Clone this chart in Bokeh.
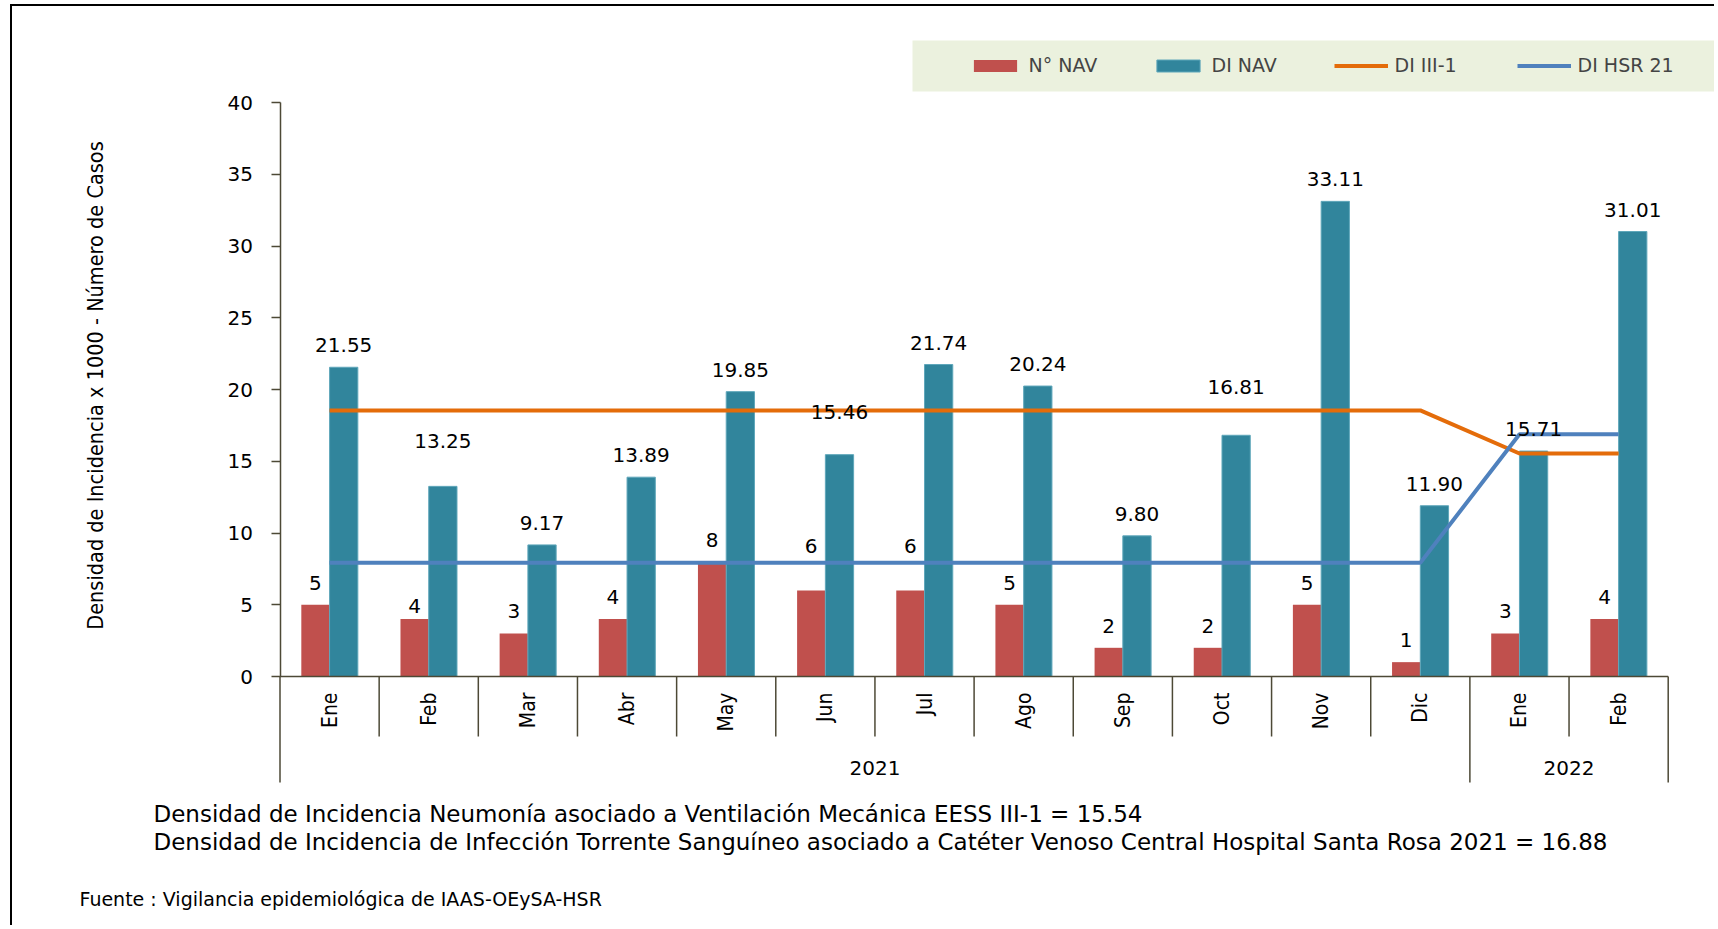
import math
from bokeh.plotting import figure
from bokeh.models import (Range1d, FixedTicker, Label, Legend, LegendItem,
                          ColumnDataSource)
from bokeh.transform import dodge
from bokeh.core.properties import value
from bokeh.embed import file_html
from bokeh.resources import INLINE

# ---------------- data ----------------
months = ["Ene", "Feb", "Mar", "Abr", "May", "Jun", "Jul", "Ago", "Sep", "Oct", "Nov", "Dic", "Ene", "Feb"]
years = ["2021", "2022"]
months_per_year = [12, 2]
n_nav = [5, 4, 3, 4, 8, 6, 6, 5, 2, 2, 5, 1, 3, 4]
di_nav = [21.55, 13.25, 9.17, 13.89, 19.85, 15.46, 21.74, 20.24, 9.80, 16.81, 33.11, 11.90, 15.71, 31.01]
di_iii1 = [18.54, 18.54, 18.54, 18.54, 18.54, 18.54, 18.54, 18.54, 18.54, 18.54, 18.54, 18.54, 15.54, 15.54]
di_hsr21 = [7.92, 7.92, 7.92, 7.92, 7.92, 7.92, 7.92, 7.92, 7.92, 7.92, 7.92, 7.92, 16.88, 16.88]
y_ticks = [0, 5, 10, 15, 20, 25, 30, 35, 40]
series_names = ["N° NAV", "DI NAV", "DI III-1", "DI HSR 21"]
y_title = "Densidad de Incidencia x 1000 - Número de Casos"
note1 = "Densidad de Incidencia Neumonía asociado a Ventilación Mecánica EESS III-1 = 15.54"
note2 = "Densidad de Incidencia de Infección Torrente Sanguíneo asociado a Catéter Venoso Central Hospital Santa Rosa 2021 = 16.88"
source_note = "Fuente : Vigilancia epidemiológica de IAAS-OEySA-HSR"

# ---------------- styles / layout (pixels) ----------------
RED = "#C0504D"
TEAL = "#31859C"
ORANGE = "#E46C0A"
BLUE = "#4F81BD"
AXIS = "#4d4936"
LEGEND_BG = "#EBF1DE"
NARROW = "DejaVu Sans Condensed"
WIDE = "DejaVu Sans"

W, H = 1704, 921
frame_left = 60                 # frame covers the canvas right of the axis panel
x0_px, x1_px = 267.5, 1655.7    # canvas x of first / last category edge
y0_px, ymax_px = 670, 96        # canvas y of value 0 / value 40
n = len(months)
y_max = y_ticks[-1]
px_per_cat = (x1_px - x0_px) / n
px_per_unit = (y0_px - ymax_px) / y_max
x_start = -(x0_px - frame_left) / px_per_cat
x_end = n + (W - x1_px) / px_per_cat
y_end = y_max + ymax_px / px_per_unit
y_start = -(H - y0_px) / px_per_unit


def px_x(cx):
    return (cx - x0_px) / px_per_cat


def px_y(cy):
    return (y0_px - cy) / px_per_unit


bar_w = 0.285
label_gap = 22
# extra lift (px) of some value labels, as placed in the original
nav_extra_lift = [0, -9, 0, 0, 0, 22, 22, 0, 0, 0, 0, 0, 0, 0]
di_extra_lift = [0, 23, 0, 0, 0, 21, 0, 0, 0, 26, 0, 0, 0, 0]

xc = [i + 0.5 for i in range(n)]
src = ColumnDataSource(dict(
    xc=xc, n_nav=n_nav, di_nav=di_nav, di_iii1=di_iii1, di_hsr21=di_hsr21,
    n_lbl=[str(v) for v in n_nav],
    di_lbl=["%.2f" % v for v in di_nav],
    n_off=[-(label_gap + e) for e in nav_extra_lift],
    di_off=[-(label_gap + e) for e in di_extra_lift],
))

p = figure(width=W, height=H, output_backend="svg", toolbar_location=None, title=None,
           x_range=Range1d(x_start, x_end), y_range=Range1d(y_start, y_end),
           x_axis_location=None, min_border_left=frame_left,
           min_border_right=0, min_border_top=0, min_border_bottom=0)
p.grid.visible = False
p.outline_line_color = None
p.background_fill_color = "white"
p.border_fill_color = "white"
p.styles = {"margin-left": "10px", "margin-top": "4px",
            "border-left": "2px solid #000", "border-top": "2px solid #000"}

yax = p.yaxis[0]
yax.fixed_location = 0
yax.ticker = FixedTicker(ticks=y_ticks)
yax.bounds = (y_ticks[0], y_ticks[-1])
yax.axis_line_color = AXIS
yax.axis_line_width = 1.5
yax.major_tick_line_color = AXIS
yax.major_tick_line_width = 1.5
yax.major_tick_out = 9
yax.major_tick_in = 0
yax.minor_tick_line_color = None
yax.major_label_text_font = WIDE
yax.major_label_text_font_size = "20px"
yax.major_label_text_color = "black"
yax.major_label_standoff = 18

# legend background band (drawn under everything)
p.quad(left=[px_x(900)], right=[px_x(W + 10)], top=[px_y(34)], bottom=[px_y(85)],
       fill_color=LEGEND_BG, line_color=None)

# bars
r_nav = p.vbar(x=dodge("xc", -bar_w / 2), top="n_nav", width=bar_w, bottom=0,
               source=src, fill_color=RED, line_color=None)
r_di = p.vbar(x=dodge("xc", bar_w / 2), top="di_nav", width=bar_w, bottom=0,
              source=src, fill_color=TEAL, line_color="#5fa7ba", line_width=1)

# lines
r_iii = p.line("xc", "di_iii1", source=src, line_color=ORANGE, line_width=4, line_cap="butt")
r_hsr = p.line("xc", "di_hsr21", source=src, line_color=BLUE, line_width=4, line_cap="butt")

# value labels
p.text(x=dodge("xc", -bar_w / 2), y="n_nav", text="n_lbl", y_offset="n_off", source=src,
       text_align="center", text_baseline="alphabetic",
       text_font=value(WIDE), text_font_size="20px", text_color="black")
p.text(x=dodge("xc", bar_w / 2), y="di_nav", text="di_lbl", y_offset="di_off", source=src,
       text_align="center", text_baseline="alphabetic",
       text_font=value(WIDE), text_font_size="20px", text_color="black")

# category axis drawn by hand
bounds = list(range(n + 1))
year_bounds = [0]
for c in months_per_year:
    year_bounds.append(year_bounds[-1] + c)
month_sep = -60 / px_per_unit
year_sep = -106 / px_per_unit
p.segment(x0=[0], y0=[0], x1=[n], y1=[0], line_color=AXIS, line_width=1.5)
p.segment(x0=bounds, y0=[0] * len(bounds), x1=bounds,
          y1=[year_sep if b in year_bounds else month_sep for b in bounds],
          line_color=AXIS, line_width=1.5)
p.text(x=xc, y=[-16 / px_per_unit] * n, text=months, angle=math.pi / 2,
       text_align="right", text_baseline="middle",
       text_font=value(NARROW), text_font_size="21px", text_color="black")
year_x = [(year_bounds[i] + year_bounds[i + 1]) / 2 for i in range(len(years))]
p.text(x=year_x, y=[-91 / px_per_unit] * len(years), text=years,
       text_align="center", text_baseline="middle",
       text_font=value(WIDE), text_font_size="20px", text_color="black")

# legend (transparent, over the band)
legend = Legend(items=[LegendItem(label=series_names[0], renderers=[r_nav]),
                       LegendItem(label=series_names[1], renderers=[r_di]),
                       LegendItem(label=series_names[2], renderers=[r_iii]),
                       LegendItem(label=series_names[3], renderers=[r_hsr])],
                orientation="horizontal", location=(955.6 - frame_left, H - 70),
                background_fill_alpha=0, border_line_color=None,
                padding=0, spacing=0, margin=0,
                glyph_width=54, glyph_height=15, label_standoff=7, label_width=122,
                label_text_font=WIDE, label_text_font_size="19px")
p.add_layout(legend)

# texts around the chart (screen units relative to the plot frame)
p.add_layout(Label(x=83 - frame_left, y=H - 379, x_units="screen", y_units="screen",
                   text=y_title, angle=math.pi / 2, text_align="center", text_baseline="middle",
                   text_font=NARROW, text_font_size="21.5px", text_color="black"))
p.add_layout(Label(x=141 - frame_left, y=H - 807, x_units="screen", y_units="screen",
                   text=note1, text_align="left", text_baseline="middle",
                   text_font=WIDE, text_font_size="23px", text_color="black"))
p.add_layout(Label(x=141 - frame_left, y=H - 835.5, x_units="screen", y_units="screen",
                   text=note2, text_align="left", text_baseline="middle",
                   text_font=WIDE, text_font_size="23px", text_color="black"))
p.add_layout(Label(x=67 - frame_left, y=H - 892, x_units="screen", y_units="screen",
                   text=source_note, text_align="left", text_baseline="middle",
                   text_font=WIDE, text_font_size="19px", text_color="black"))

open("out.html", "w").write(file_html(p, INLINE))
